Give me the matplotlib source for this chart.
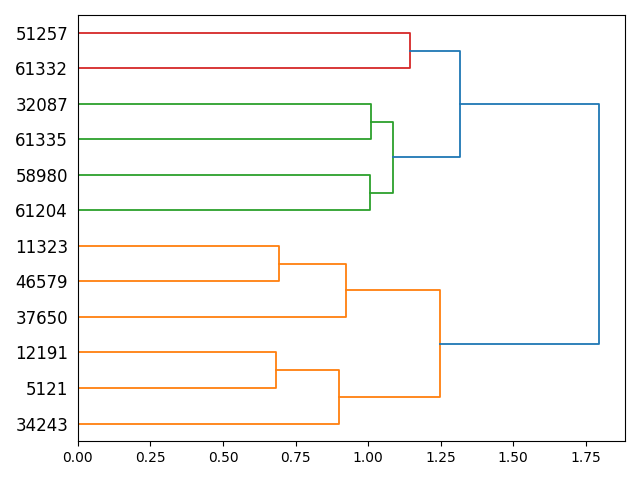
import matplotlib
matplotlib.use("Agg")
import matplotlib.pyplot as plt
from matplotlib.collections import LineCollection

# ----------------------
# DATA
# ----------------------
# leaves listed bottom to top, as they sit on the y axis
leaf_labels = ["34243", "5121", "12191", "37650", "46579", "11323",
               "61204", "58980", "61335", "32087", "61332", "51257"]

# linkage rows: child a, child b, merge distance (new cluster id = n + row)
merge_a = [1, 5, 0, 3, 6, 8, 16, 10, 14, 18, 20]
merge_b = [2, 4, 12, 13, 7, 9, 17, 11, 15, 19, 21]
merge_dist = [0.682, 0.692, 0.899, 0.923, 1.006, 1.009, 1.085, 1.144, 1.247, 1.316, 1.795]

# ----------------------
# BUILD DENDROGRAM SEGMENTS
# ----------------------
n = len(leaf_labels)
pos = {i: 5.0 + 10.0 * i for i in range(n)}
height = {i: 0.0 for i in range(n)}
members = {i: [i] for i in range(n)}

threshold = 0.7 * max(merge_dist)
palette = ["C1", "C2", "C3", "C4", "C5"]
above_color = "C0"

# assign cluster colours in order from the bottom (like scipy)
cluster_color = {}
next_col = 0
segs, cols = [], []
for k, (a, b, d) in enumerate(zip(merge_a, merge_b, merge_dist)):
    cid = n + k
    pos[cid] = (pos[a] + pos[b]) / 2.0
    height[cid] = d
    members[cid] = members[a] + members[b]
    segs.append([(height[a], pos[a]), (d, pos[a]), (d, pos[b]), (height[b], pos[b])])
    cols.append(d)

# colour: each merge below threshold takes its top-level cluster colour
top_clusters = []
for k, d in enumerate(merge_dist):
    cid = n + k
    if d < threshold:
        parent_above = True
        for j in range(k + 1, len(merge_dist)):
            if cid in (merge_a[j], merge_b[j]):
                parent_above = merge_dist[j] >= threshold
                break
        if parent_above:
            top_clusters.append(cid)
top_clusters.sort(key=lambda c: min(pos[m] for m in members[c]))
for i, c in enumerate(top_clusters):
    for m in members[c]:
        cluster_color[m] = palette[i % len(palette)]

colors = []
for k, d in enumerate(merge_dist):
    if d >= threshold:
        colors.append(above_color)
    else:
        colors.append(cluster_color[members[n + k][0]])

# ----------------------
# PLOT
# ----------------------
fig, ax = plt.subplots(figsize=(6.4, 4.8), dpi=100)
for s, c in zip(segs, colors):
    xs = [p[0] for p in s]
    ys = [p[1] for p in s]
    ax.plot(xs, ys, color=c, linewidth=1.3)

ax.set_ylim(0, 10 * n)
ax.set_xlim(0, 1.05 * max(merge_dist))
ax.set_yticks([pos[i] for i in range(n)])
ax.set_yticklabels(leaf_labels, fontsize=12)
for line in ax.get_yticklines():
    line.set_visible(False)

fig.tight_layout()
fig.savefig("out.png")
